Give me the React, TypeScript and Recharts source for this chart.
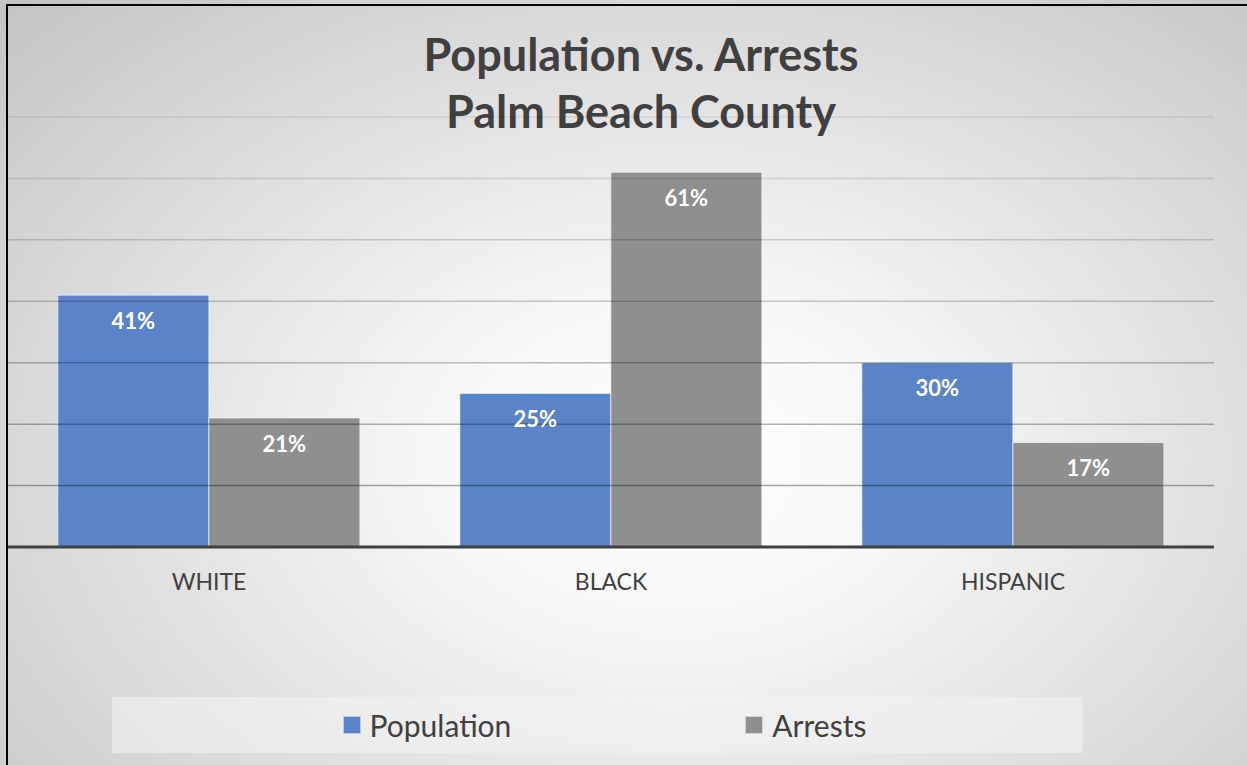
import React from 'react';
import { BarChart, Bar, XAxis, YAxis, ReferenceLine, LabelList, Legend } from 'recharts';

const categories = ['WHITE', 'BLACK', 'HISPANIC'];
const seriesNames = ['Population', 'Arrests'];
const population = [41, 25, 30];
const arrests = [21, 61, 17];
const gridTicks = [10, 20, 30, 40, 50, 60, 70];

const data = categories.map((name, i) => ({ name, Population: population[i], Arrests: arrests[i] }));

const FONT = 'Lato, "Open Sans", sans-serif';
const TEXT = '#404040';

const renderLegend = (props: any) => {
  const payload = [...(props.payload || [])].sort(
    (a: any, b: any) => seriesNames.indexOf(a.value) - seriesNames.indexOf(b.value)
  );
  return (
    <div
      style={{
        width: 971,
        height: 56,
        background: 'rgba(242,242,242,0.6)',
        display: 'flex',
        alignItems: 'center',
        justifyContent: 'center',
        gap: 234,
        paddingLeft: 14,
        boxSizing: 'border-box',
      }}
    >
      {payload.map((entry: any) => (
        <div key={entry.value} style={{ display: 'flex', alignItems: 'center' }}>
          <span
            style={{
              width: 16,
              height: 16,
              background: entry.color,
              border: '1px solid rgba(255,255,255,0.6)',
              marginRight: 9,
            }}
          />
          <span style={{ fontSize: 30, color: TEXT, fontFamily: FONT }}>{entry.value}</span>
        </div>
      ))}
    </div>
  );
};

const App = () => {
  return (
    <div
      style={{
        position: 'relative',
        width: 1247,
        height: 765,
        overflow: 'hidden',
        background:
          'radial-gradient(ellipse 75% 85% at 54% 60%, #ffffff 0%, #f7f7f7 25%, #c4c4c4 100%)',
      }}
    >
      <style>{`body{margin:0}`}</style>
      <div
        style={{
          position: 'absolute',
          left: 6,
          top: 4,
          width: 1300,
          height: 800,
          borderLeft: '2px solid #000',
          borderTop: '2px solid #000',
        }}
      />
      <div
        style={{
          position: 'absolute',
          left: 0,
          top: 26,
          width: 1282,
          textAlign: 'center',
          fontFamily: FONT,
          fontWeight: 'bold',
          fontSize: 45,
          lineHeight: '57px',
          color: TEXT,
        }}
      >
        Population vs. Arrests
        <br />
        Palm Beach County
      </div>
      <div style={{ position: 'absolute', left: 0, top: 0 }}>
        <BarChart
          width={1247}
          height={765}
          data={data}
          margin={{ top: 117, right: 33, bottom: 188, left: 8 }}
          barCategoryGap="12.4%"
          barGap={0}
        >
          <XAxis
            dataKey="name"
            height={30}
            tickLine={false}
            axisLine={{ stroke: TEXT, strokeWidth: 3 }}
            tick={{ fill: TEXT, fontSize: 23, fontFamily: FONT }}
            tickMargin={21}
          />
          <YAxis hide domain={[0, 70]} ticks={gridTicks} />
          <Bar dataKey="Population" fill="#5b83c8" stroke="rgba(255,255,255,0.6)" isAnimationActive={false}>
            <LabelList
              dataKey="Population"
              position="insideTop"
              offset={18}
              fill="#ffffff"
              fontWeight="bold"
              fontSize={22}
              fontFamily={FONT}
              formatter={(v: any) => `${v}%`}
            />
          </Bar>
          <Bar dataKey="Arrests" fill="#8f8f8f" stroke="rgba(255,255,255,0.6)" isAnimationActive={false}>
            <LabelList
              dataKey="Arrests"
              position="insideTop"
              offset={18}
              fill="#ffffff"
              fontWeight="bold"
              fontSize={22}
              fontFamily={FONT}
              formatter={(v: any) => `${v}%`}
            />
          </Bar>
          {gridTicks.map((t) => (
            <ReferenceLine
              key={t}
              y={t}
              stroke="#000"
              strokeOpacity={0.08 + 0.3 * (1 - t / 70)}
              strokeWidth={1.5}
            />
          ))}
          <Legend
            content={renderLegend}
            layout="horizontal"
            verticalAlign="middle"
            align="center"
            wrapperStyle={{ position: 'absolute', left: 112, top: 697, width: 971, height: 56 }}
          />
        </BarChart>
      </div>
    </div>
  );
};

export default App;
